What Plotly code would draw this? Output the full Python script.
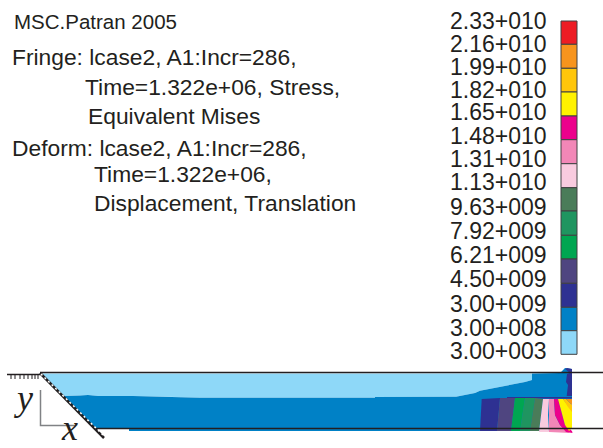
import plotly.graph_objects as go

W, H = 603, 448
legend_labels = ["2.33+010","2.16+010","1.99+010","1.82+010","1.65+010","1.48+010","1.31+010","1.13+010",
                 "9.63+009","7.92+009","6.21+009","4.50+009","3.00+009","3.00+008","3.00+003"]
legend_label_y = [23,46,69,92,114,138,161,184,209,233,257,281,306,330,353]
legend_edges = [21,44.3,68.3,92,116,139.7,163.7,187.7,211,235.3,259,283.3,307.3,330.7,354.3]
legend_colors = ["#ed1c24","#f7941d","#ffc60b","#fff200","#ec008c","#f287b7","#f9cbdf","#4a7c59",
                 "#1f9560","#00a651","#4f4580","#2e3192","#0081c6","#8ed8f8"]

text_lines = ["MSC.Patran 2005","Fringe: lcase2, A1:Incr=286,","Time=1.322e+06, Stress,","Equivalent Mises",
              "Deform: lcase2, A1:Incr=286,","Time=1.322e+06,","Displacement, Translation"]
text_x = [14,12,85,88,12,94,94]
text_y = [24,59,89,118,150,176,205]
text_size = [20.5,22.8,22.8,22.8,22.8,22.8,22.8]

# contour regions of the deformed section, in the picture's own coordinates
regions = [
 ("#8ed8f8",[40,62,65,80,88,98,133,176,200,375,375,456,465,475,480,495,505,515,525,532,532,40],
            [373.5,395,396,395.5,395,396,396,397,397.7,397.7,397,396.7,395,393,390.7,388,386,384,382,380,373.5,373.5]),
 ("#0081c6",[62,95,110,129,129,480,570,572,572,565,560,532,532,525,515,505,495,480,475,465,456,375,375,200,176,133,98,88,80,65,62],
            [395,428.5,428.5,428.5,431,431,431,397,369,368,373,373.5,380,382,384,386,388,390.7,393,395,396.7,397,397.7,397.7,397,396,396,395,395.5,396,395]),
 ("#2e3192",[566.7,568,566,567,570,565,567,572,572,566.7],[396,385,382,374,373,369,368,369,396,396]),
 ("#2e3192",[507,572,572,507],[397,397,398.5,398.5]),
 ("#2e3192",[481.7,500,497,480],[399,398,431,431]),
 ("#4f4580",[500,515,511,497],[398,398,431,431]),
 ("#00a651",[515,525,520,511],[398,398,431,431]),
 ("#1f9560",[525,535,530,520],[398,398,431,431]),
 ("#4a7c59",[535,543,539,530],[398,399,431,431]),
 ("#f9cbdf",[543,549,548,549,539],[399,399,415,432,432]),
 ("#f287b7",[549,554,555,560,564,570,549],[399,399,415,425,429,433,432]),
 ("#ec008c",[554,558,561,565,572,572.5,566,560,555],[399,399,410,425,431,433,432,425,415]),
 ("#fff200",[558,563,572,572,569,565,561],[399,399,411,428,431,425,410]),
 ("#ffc60b",[563,566,572,572,568],[399,399,405,412,407]),
 ("#f7941d",[566,572,572],[399,399,405]),
]
lines = [
 ([40,603],[372.5,372.5],"#231f20",1.5),
 ([95,603],[428.5,428.5],"#231f20",1.5),
 ([7,40],[374.5,374.5],"#231f20",1.5),
 ([40.5,40.5,76],[390,425.5,425.5],"#808285",1.5),
]
ticks_x = [11,15,20,24,28,32,35,38]
diag_x, diag_y = [40,104],[373,438]
diag_dot_x, diag_dot_y = [41,105],[374,437]
sym_labels = ["y","x"]
sym_x, sym_y = [25,70],[401,431]

fig = go.Figure()
for color, xs, ys in regions:
    fig.add_trace(go.Scatter(x=xs,y=ys,mode="lines",fill="toself",fillcolor=color,line=dict(width=0),hoverinfo="skip"))
for xs, ys, c, w in lines:
    fig.add_trace(go.Scatter(x=xs,y=ys,mode="lines",line=dict(color=c,width=w)))
for t in ticks_x:
    fig.add_trace(go.Scatter(x=[t,t],y=[374.5,379],mode="lines",line=dict(color="#231f20",width=1)))
fig.add_trace(go.Scatter(x=diag_x,y=diag_y,mode="lines",line=dict(color="#231f20",width=2.5)))
fig.add_trace(go.Scatter(x=diag_dot_x,y=diag_dot_y,mode="lines",line=dict(color="#ffffff",width=1.5,dash="2px 3px")))

fig.add_trace(go.Bar(x=[569]*14,base=legend_edges[:-1],
                     y=[b-a for a,b in zip(legend_edges[:-1],legend_edges[1:])],
                     width=16,marker=dict(color=legend_colors,line=dict(color="#414042",width=1))))
fig.add_trace(go.Scatter(x=[450]*15,y=legend_label_y,mode="text",text=legend_labels,textposition="middle right",
                         textfont=dict(family="Liberation Sans",size=23,color="#231f20")))
fig.add_trace(go.Scatter(x=text_x,y=text_y,mode="text",text=text_lines,textposition="middle right",
                         textfont=dict(family="Liberation Sans",size=text_size,color="#231f20")))
fig.add_trace(go.Scatter(x=sym_x,y=sym_y,mode="text",text=sym_labels,textposition="middle center",cliponaxis=False,
                         textfont=dict(family="Liberation Serif",size=36,color="#231f20",style="italic")))

fig.update_layout(width=W,height=H,autosize=False,margin=dict(l=0,r=0,t=0,b=0),showlegend=False,
                  plot_bgcolor="white",paper_bgcolor="white",
                  xaxis=dict(range=[0,W],visible=False,fixedrange=True),
                  yaxis=dict(range=[H,0],visible=False,fixedrange=True))
fig.write_html("out.html",config={"displayModeBar":False},
               post_script="document.body.style.margin='0';document.documentElement.style.overflow='hidden';")
